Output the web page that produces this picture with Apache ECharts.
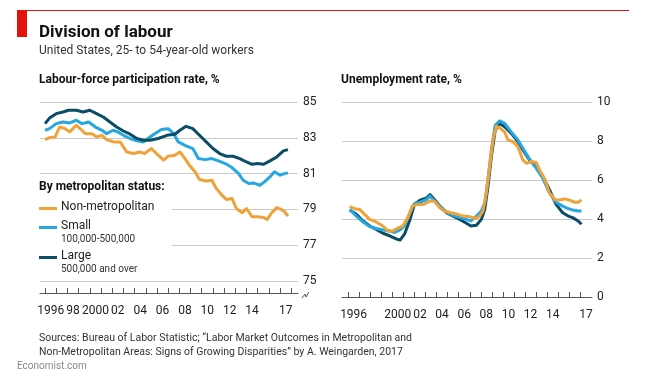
<!DOCTYPE html>
<html>
<head>
<meta charset="utf-8">
<script src="https://cdn.jsdelivr.net/npm/echarts@6/dist/echarts.min.js"></script>
<style>
  html, body { margin: 0; padding: 0; background: #fff; }
  #chart { width: 650px; height: 376px; }
</style>
</head>
<body>
<div id="chart"></div>
<script>
// labour-force participation rate, % (year, value)
var partLarge = [
  [1996.0, 83.79], [1996.4, 84.1], [1997.0, 84.35], [1997.6, 84.44], [1998.1, 84.54],
  [1998.8, 84.54], [1999.4, 84.44], [2000.0, 84.54], [2000.6, 84.35], [2001.2, 84.16],
  [2001.8, 83.88], [2002.4, 83.6], [2003.0, 83.38], [2003.6, 83.2], [2004.2, 82.96],
  [2004.8, 82.86], [2005.4, 82.86], [2006.1, 82.96], [2006.9, 83.14], [2007.6, 83.2],
  [2008.05, 83.42], [2008.6, 83.64], [2009.2, 83.51], [2009.8, 83.14], [2010.4, 82.77],
  [2011.0, 82.4], [2011.6, 82.12], [2012.2, 81.97], [2012.8, 81.97], [2013.4, 81.84],
  [2014.0, 81.65], [2014.5, 81.52], [2015.0, 81.56], [2015.5, 81.52], [2016.1, 81.71],
  [2016.7, 81.93], [2017.3, 82.27], [2017.7, 82.34]
];
var partSmall = [
  [1996.0, 83.42], [1996.4, 83.51], [1997.0, 83.79], [1997.6, 83.88], [1998.2, 83.83],
  [1998.8, 83.98], [1999.3, 83.79], [1999.9, 83.88], [2000.5, 83.6], [2001.1, 83.42],
  [2001.5, 83.23], [2002.1, 83.42], [2002.5, 83.33], [2003.0, 83.14], [2003.6, 82.96],
  [2004.2, 82.83], [2004.8, 82.77], [2005.2, 82.96], [2005.8, 83.23], [2006.4, 83.46],
  [2007.0, 83.51], [2007.5, 83.23], [2007.9, 82.77], [2008.5, 82.58], [2009.2, 82.4],
  [2009.7, 81.84], [2010.3, 81.78], [2010.9, 81.84], [2011.5, 81.71], [2012.1, 81.56],
  [2012.7, 81.34], [2013.3, 81.0], [2013.7, 80.63], [2014.2, 80.45], [2014.6, 80.48],
  [2015.2, 80.35], [2015.6, 80.54], [2016.1, 80.82], [2016.5, 81.1], [2017.0, 80.91],
  [2017.4, 81.0], [2017.7, 81.04]
];
var partNonMetro = [
  [1996.0, 82.9], [1996.4, 83.01], [1996.9, 83.05], [1997.3, 83.6], [1997.8, 83.51],
  [1998.2, 83.33], [1998.8, 83.7], [1999.3, 83.42], [1999.6, 83.23], [2000.2, 83.23],
  [2000.6, 83.05], [2001.1, 83.14], [2001.5, 82.9], [2002.1, 82.77], [2002.7, 82.77],
  [2003.3, 82.21], [2003.9, 82.12], [2004.5, 82.21], [2004.9, 82.12], [2005.5, 82.4],
  [2006.1, 82.03], [2006.6, 81.75], [2007.0, 81.97], [2007.6, 82.03], [2008.05, 82.21],
  [2008.5, 81.84], [2008.9, 81.47], [2009.4, 81.1], [2009.8, 80.67], [2010.4, 80.59],
  [2010.9, 80.63], [2011.3, 80.17], [2011.8, 79.8], [2012.2, 79.55], [2012.7, 79.61],
  [2013.1, 79.05], [2013.6, 78.81], [2014.0, 79.05], [2014.5, 78.59], [2015.0, 78.59],
  [2015.5, 78.55], [2015.85, 78.44], [2016.2, 78.77], [2016.7, 79.1], [2017.1, 79.0],
  [2017.4, 78.87], [2017.7, 78.62]
];

// unemployment rate, % (year, value)
var unempLarge = [
  [1996.15, 4.46], [1996.75, 4.24], [1997.35, 3.9], [1997.95, 3.64], [1998.55, 3.47],
  [1999.15, 3.27], [1999.75, 3.14], [2000.4, 2.97], [2000.7, 2.92], [2001.1, 3.22],
  [2001.6, 3.98], [2002.0, 4.75], [2002.5, 4.97], [2003.1, 5.08], [2003.4, 5.25],
  [2003.8, 5.0], [2004.3, 4.66], [2004.9, 4.32], [2005.5, 4.15], [2006.1, 3.98],
  [2006.7, 3.78], [2007.1, 3.64], [2007.6, 3.68], [2008.05, 3.98], [2008.35, 4.49],
  [2008.65, 5.68], [2008.95, 7.2], [2009.3, 8.56], [2009.7, 8.9], [2010.15, 8.73],
  [2010.75, 8.39], [2011.35, 7.97], [2011.8, 7.54], [2012.4, 7.03], [2013.0, 6.69],
  [2013.6, 6.19], [2014.2, 5.51], [2014.8, 4.75], [2015.4, 4.32], [2015.9, 4.15],
  [2016.3, 4.07], [2016.8, 3.9], [2017.1, 3.73]
];
var unempSmall = [
  [1996.15, 4.49], [1996.75, 4.15], [1997.35, 3.85], [1997.95, 3.61], [1998.55, 3.51],
  [1999.15, 3.44], [1999.75, 3.39], [2000.2, 3.31], [2000.7, 3.44], [2001.1, 3.64],
  [2001.6, 4.32], [2002.0, 4.8], [2002.5, 4.86], [2003.1, 5.0], [2003.4, 5.17],
  [2003.8, 4.92], [2004.3, 4.63], [2004.9, 4.36], [2005.5, 4.19], [2006.1, 4.07],
  [2006.7, 3.98], [2007.1, 3.9], [2007.6, 4.15], [2008.05, 4.41], [2008.35, 4.83],
  [2008.65, 6.02], [2008.95, 7.54], [2009.3, 8.81], [2009.7, 9.03], [2010.15, 8.9],
  [2010.75, 8.47], [2011.35, 8.05], [2011.8, 7.63], [2012.4, 7.07], [2013.0, 6.61],
  [2013.6, 6.1], [2014.2, 5.34], [2014.8, 4.86], [2015.4, 4.66], [2015.9, 4.53],
  [2016.3, 4.46], [2016.8, 4.41], [2017.1, 4.41]
];
var unempNonMetro = [
  [1996.15, 4.63], [1996.6, 4.53], [1997.05, 4.49], [1997.5, 4.24], [1997.95, 3.98],
  [1998.55, 3.85], [1999.15, 3.64], [1999.6, 3.39], [2000.05, 3.39], [2000.5, 3.53],
  [2000.95, 3.64], [2001.4, 4.07], [2001.8, 4.66], [2002.2, 4.75], [2002.8, 4.75],
  [2003.4, 4.92], [2003.8, 4.92], [2004.3, 4.58], [2004.7, 4.41], [2005.3, 4.32],
  [2005.9, 4.24], [2006.4, 4.15], [2007.0, 4.12], [2007.5, 4.02], [2007.9, 4.15],
  [2008.2, 4.41], [2008.5, 5.34], [2008.8, 6.69], [2009.1, 8.05], [2009.4, 8.76],
  [2009.8, 8.64], [2010.15, 8.47], [2010.45, 8.05], [2010.9, 7.97], [2011.35, 7.71],
  [2011.8, 7.03], [2012.1, 6.86], [2012.6, 6.95], [2013.0, 6.9], [2013.3, 6.53],
  [2013.8, 6.02], [2014.2, 5.34], [2014.7, 5.0], [2015.1, 4.97], [2015.6, 5.03],
  [2016.0, 4.97], [2016.5, 4.86], [2016.8, 4.86], [2017.1, 4.97]
];

// axis ticks and labels
var partTicks = [75, 77, 79, 81, 83, 85];
var unempTicks = [0, 2, 4, 6, 8, 10];
var tickYearsLeft = [1996, 1997, 1998, 1999, 2000, 2001, 2002, 2003, 2004, 2005, 2006, 2007,
  2008, 2009, 2010, 2011, 2012, 2013, 2014, 2015, 2016, 2017, 2018];
var tickYearsRight = [1996, 1997, 1998, 1999, 2000, 2001, 2002, 2003, 2004, 2005, 2006, 2007,
  2008, 2009, 2010, 2011, 2012, 2013, 2014, 2015, 2016, 2017];
var labelYearsLeft = [1996, 1998, 2000, 2002, 2004, 2006, 2008, 2010, 2012, 2014, 2017];
var labelTextLeft = ['1996', '98', '2000', '02', '04', '06', '08', '10', '12', '14', '17'];
var labelYearsRight = [1996, 2000, 2002, 2004, 2006, 2008, 2010, 2012, 2014, 2017];
var labelTextRight = ['1996', '2000', '02', '04', '06', '08', '10', '12', '14', '17'];

var FONT = "Roboto, 'Noto Sans', sans-serif";
var cLarge = '#0b4c66';
var cSmall = '#27a7df';
var cNonMetro = '#f0a23a';

var myChart = echarts.init(document.getElementById('chart'), null, { renderer: 'canvas' });

function xAxisFor(gridIndex, min, max, ticks, labelYears, labelText, offset) {
  return {
    type: 'value',
    gridIndex: gridIndex,
    min: min,
    max: max,
    offset: offset,
    axisLine: { show: true, lineStyle: { color: '#555', width: 1 } },
    axisTick: {
      show: true, inside: true, length: 5,
      customValues: ticks,
      lineStyle: { color: '#555', width: 1 }
    },
    axisLabel: {
      customValues: labelYears.map(function (y) { return y + 0.5; }),
      formatter: function (v) {
        var i = labelYears.indexOf(Math.floor(v));
        return i >= 0 ? labelText[i] : '';
      },
      color: '#222', fontSize: 12, fontFamily: FONT, margin: 12
    },
    splitLine: { show: false }
  };
}

function yAxisFor(gridIndex, min, max) {
  return {
    type: 'value',
    gridIndex: gridIndex,
    position: 'right',
    min: min,
    max: max,
    interval: 2,
    axisLine: { show: false },
    axisTick: { show: false },
    axisLabel: { color: '#222', fontSize: 12, fontFamily: FONT, margin: 5 },
    splitLine: { show: true, lineStyle: { color: '#c9c9c9', width: 1 } }
  };
}

function lineSeries(data, color, xi, z) {
  return {
    type: 'line',
    data: data,
    xAxisIndex: xi,
    yAxisIndex: xi,
    showSymbol: false,
    z: z,
    lineStyle: { color: color, width: 3, join: 'round' },
    itemStyle: { color: color },
    animation: false
  };
}

var txt = function (x, y, text, size, weight, color, extra) {
  var o = {
    type: 'text', left: x, top: y, z: 10,
    style: { text: text, fontSize: size, fontWeight: weight || 'normal', fill: color || '#222', fontFamily: FONT }
  };
  return o;
};

var graphics = [
  { type: 'rect', left: 17, top: 10, z: 10, shape: { width: 612, height: 1 }, style: { fill: '#e3120b' } },
  { type: 'rect', left: 17, top: 10, z: 10, shape: { width: 10, height: 27 }, style: { fill: '#e3120b' } },
  txt(39, 24, 'Division of labour', 17, 'bold', '#111'),
  txt(39, 45, 'United States, 25- to 54-year-old workers', 12, 'normal', '#333'),
  txt(39, 74, 'Labour-force participation rate, %', 12, 'bold', '#111'),
  txt(341, 74, 'Unemployment rate, %', 12, 'bold', '#111'),
  // legend box
  { type: 'rect', left: 38, top: 180, z: 5, shape: { width: 134, height: 95 }, style: { fill: '#fff' } },
  txt(39, 181, 'By metropolitan status:', 12, 'bold', '#111'),
  { type: 'rect', left: 39, top: 207, z: 10, shape: { width: 18, height: 3 }, style: { fill: cNonMetro } },
  txt(61, 201, 'Non-metropolitan', 12, 'normal', '#222'),
  { type: 'rect', left: 39, top: 226, z: 10, shape: { width: 18, height: 3 }, style: { fill: cSmall } },
  txt(61, 220, 'Small', 12, 'normal', '#222'),
  txt(61, 234, '100,000-500,000', 10, 'normal', '#333'),
  { type: 'rect', left: 39, top: 256, z: 10, shape: { width: 18, height: 3 }, style: { fill: cLarge } },
  txt(61, 250, 'Large', 12, 'normal', '#222'),
  txt(61, 264, '500,000 and over', 10, 'normal', '#333'),
  // axis break
  { type: 'polyline', z: 10, shape: { points: [[302, 298], [305, 294], [306, 297], [309, 292]] },
    style: { stroke: '#555', lineWidth: 1, fill: null } },
  txt(39, 333, 'Sources: Bureau of Labor Statistic; \u201cLabor Market Outcomes in Metropolitan and', 10.5, 'normal', '#333'),
  txt(39, 347, 'Non-Metropolitan Areas: Signs of Growing Disparities\u201d by A. Weingarden, 2017', 10.5, 'normal', '#333'),
  txt(17, 361, 'Economist.com', 10, 'normal', '#888')
];

myChart.setOption({
  backgroundColor: '#fff',
  animation: false,
  grid: [
    { left: 40, right: 352, top: 102, height: 179, containLabel: false, outerBoundsMode: 'none' },
    { left: 342, right: 58, top: 102, height: 195, containLabel: false, outerBoundsMode: 'none' }
  ],
  xAxis: [
    xAxisFor(0, 1995.55, 2018.6, tickYearsLeft, labelYearsLeft, labelTextLeft, 12),
    xAxisFor(1, 1995.45, 2018.05, tickYearsRight, labelYearsRight, labelTextRight, 0)
  ],
  yAxis: [
    yAxisFor(0, partTicks[0], partTicks[partTicks.length - 1]),
    yAxisFor(1, unempTicks[0], unempTicks[unempTicks.length - 1])
  ],
  series: [
    lineSeries(partNonMetro, cNonMetro, 0, 2),
    lineSeries(partSmall, cSmall, 0, 3),
    lineSeries(partLarge, cLarge, 0, 4),
    lineSeries(unempLarge, cLarge, 1, 2),
    lineSeries(unempSmall, cSmall, 1, 3),
    lineSeries(unempNonMetro, cNonMetro, 1, 4)
  ],
  graphic: graphics
});
</script>
</body>
</html>
